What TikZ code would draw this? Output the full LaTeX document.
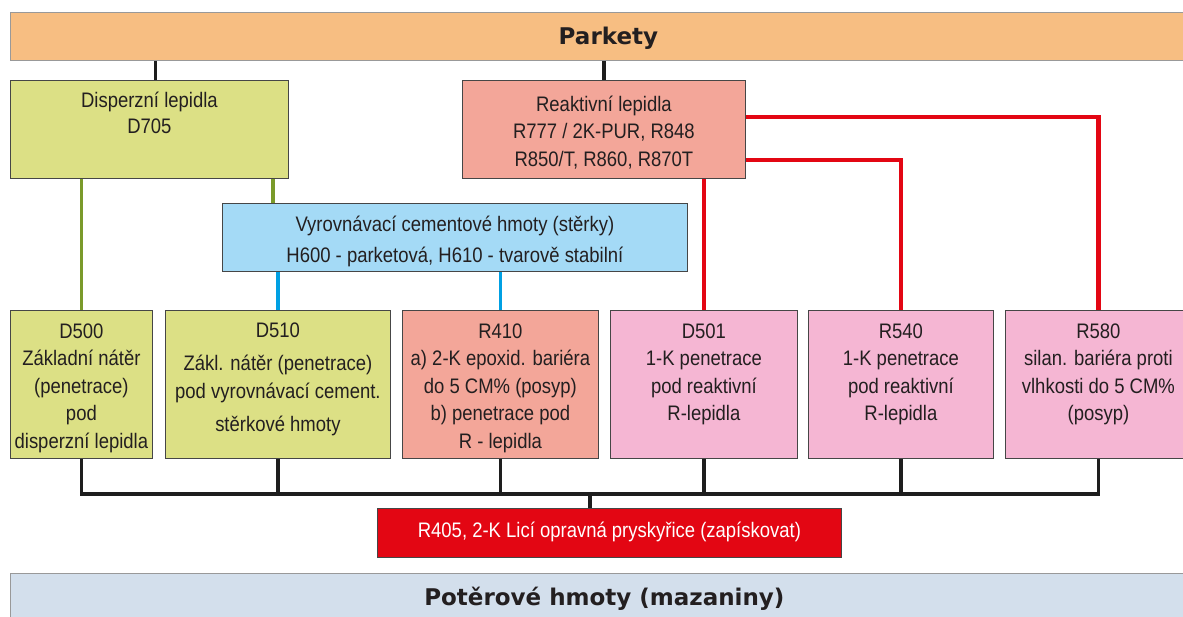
\documentclass[tikz,border=0pt]{standalone}
\usepackage{fontspec}
\setmainfont{Liberation Sans}[FakeStretch=0.88]
\newfontfamily\headfont{DejaVu Sans}
\usetikzlibrary{positioning}
\definecolor{parketcol}{RGB}{247,190,130}
\definecolor{potercol}{RGB}{211,223,236}
\definecolor{greencol}{RGB}{220,224,133}
\definecolor{salmoncol}{RGB}{243,166,153}
\definecolor{bluecol}{RGB}{164,218,246}
\definecolor{pinkcol}{RGB}{245,182,211}
\definecolor{redcol}{RGB}{227,6,19}
\definecolor{greenline}{RGB}{122,154,42}
\definecolor{blueline}{RGB}{0,160,227}
\definecolor{blackline}{RGB}{30,30,30}
\definecolor{boxline}{RGB}{70,70,70}
\definecolor{textcol}{RGB}{35,31,32}
% text of a box: width, height, first baseline, lines
\newcommand{\celltext}[4]{\parbox[c][#2pt][t]{#1pt}{\centering\rule{0pt}{#3pt}#4}}
\tikzset{
every box/.style={ % Sets the properties for each box
draw=boxline,
line width=0.8pt,
inner sep=0pt,
anchor=north west,
text=textcol,
font=\fontsize{21pt}{27.4pt}\selectfont},
band/.style={ % The two wide bands
draw=black!40,
line width=0.8pt,
inner sep=0pt,
anchor=north west,
minimum height=48pt,
text=textcol,
text height=16.8pt,
text depth=0pt,
font=\headfont\bfseries\fontsize{23pt}{27pt}\selectfont},
green box/.style={every box, fill=greencol},
salmon box/.style={every box, fill=salmoncol},
blue box/.style={every box, fill=bluecol},
pink box/.style={every box, fill=pinkcol},
red box/.style={every box, fill=redcol, text=white},
link/.style={line width=3.6pt}, % Sets the properties for each connector
black link/.style={link, draw=blackline},
green link/.style={link, draw=greenline},
blue link/.style={link, draw=blueline},
red link/.style={link, line width=4.4pt, draw=redcol}}

\begin{document}
\begin{tikzpicture}[x=1pt, y=-1pt]
	\useasboundingbox (0,0) rectangle (1183,617);
	% bands
	\node[band, fill=parketcol, minimum width=1196pt] (parkety) at (10,12) {Parkety};
	\node[band, fill=potercol, minimum width=1188pt] (poter) at (10,573) {Potěrové hmoty (mazaniny)};
	% adhesives
	\node[green box] (disp) at (10,80) {\celltext{278}{98}{27}{Disperzní lepidla\\[-1.4pt]D705}};
	\node[salmon box] (reakt) at (462,80) {\celltext{283}{98}{31}{Reaktivní lepidla\\R777 / 2K-PUR, R848\\R850/T, R860, R870T}};
	\node[blue box] (vyr) at (222,203) {\celltext{465}{68}{28}{Vyrovnávací cementové hmoty (stěrky)\\[3.6pt]H600 - parketová, H610 - tvarově stabilní}};
	% primers
	\node[green box] (d500) at (10,310) {\celltext{142}{148}{28}{D500\\Základní nátěr\\(penetrace)\\pod\\disperzní lepidla}};
	\node[green box] (d510) at (165,310) {\celltext{225}{148}{27}{D510\\[6pt]Zákl. nátěr (penetrace)\\pod vyrovnávací cement.\\[6pt]stěrkové hmoty}};
	\node[salmon box] (r410) at (402,310) {\celltext{196}{148}{28}{R410\\a) 2-K epoxid. bariéra\\do 5 CM\% (posyp)\\b) penetrace pod\\R - lepidla}};
	\node[pink box] (d501) at (610,310) {\celltext{187}{148}{28}{D501\\1-K penetrace\\pod reaktivní\\R-lepidla}};
	\node[pink box] (r540) at (808,310) {\celltext{185}{148}{28}{R540\\1-K penetrace\\pod reaktivní\\R-lepidla}};
	\node[pink box] (r580) at (1005,310) {\celltext{186}{148}{28}{R580\\silan. bariéra proti\\vlhkosti do 5 CM\%\\(posyp)}};
	\node[red box] (r405) at (377,508) {\celltext{464}{49}{29}{R405, 2-K Licí opravná pryskyřice (zapískovat)}};
	% connectors
	\draw[black link] ([xshift=6pt]disp.north |- parkety.south) -- ([xshift=6pt]disp.north);
	\draw[black link] (reakt.north |- parkety.south) -- (reakt.north);
	\draw[green link] (disp.south -| d500.north) -- (d500.north);
	\coordinate (vtop) at ([xshift=51pt]vyr.north west);
	\draw[green link] (disp.south -| vtop) -- (vtop);
	\draw[blue link] (vyr.south -| d510.north) -- (d510.north);
	\draw[blue link] (vyr.south -| r410.north) -- (r410.north);
	\draw[red link] (reakt.south -| d501.north) -- (d501.north);
	\draw[red link] ([yshift=-80pt]reakt.north east) -| (r540.north);
	\draw[red link] ([yshift=-37pt]reakt.north east) -| (r580.north);
	\coordinate (bus) at (590,494);
	\draw[black link] (d500.south) |- (bus) -| (r580.south);
	\foreach \n in {d510,r410,d501,r540}
		\draw[black link] (\n.south) -- (\n.south |- bus);
	\draw[black link] (bus) -- (bus |- r405.north);
\end{tikzpicture}
\end{document}
